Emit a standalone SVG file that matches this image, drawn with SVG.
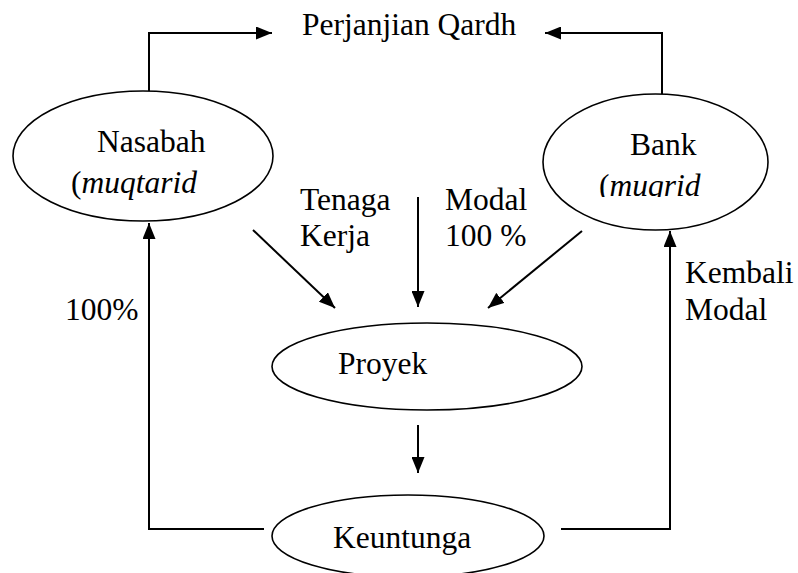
<svg xmlns="http://www.w3.org/2000/svg" width="798" height="573" viewBox="0 0 798 573">
  <defs>
    <marker id="arrow" markerUnits="userSpaceOnUse" markerWidth="16" markerHeight="13" refX="16" refY="6.5" orient="auto">
      <path d="M0,0 L16,6.5 L0,13 z" fill="#000"/>
    </marker>
    <clipPath id="bankClip">
      <rect x="560" y="100" width="200" height="97"/>
    </clipPath>
  </defs>
  <style>
    .node { fill: #fff; stroke: #000; stroke-width: 1.6; }
    .wire { fill: none; stroke: #000; stroke-width: 2; }
    .arr { marker-end: url(#arrow); }
  </style>
  <rect width="798" height="573" fill="#fff"/>

  <!-- connectors -->
  <g id="connectors">
    <polyline class="wire arr" points="149,91 149,33 272,33"/>
    <polyline class="wire arr" points="662,94 662,33 545,33"/>
    <line class="wire arr" x1="253" y1="230" x2="335" y2="308"/>
    <line class="wire arr" x1="418" y1="197" x2="418" y2="307"/>
    <line class="wire arr" x1="582" y1="231" x2="488" y2="308"/>
    <line class="wire arr" x1="418" y1="425" x2="418" y2="473"/>
    <polyline class="wire arr" points="264,529 149,529 149,223"/>
    <polyline class="wire arr" points="561,529 670,529 670,231"/>
  </g>

  <g font-family="Liberation Serif, Times New Roman, DejaVu Serif, serif" font-size="31.5" fill="#000">
    <!-- free labels -->
    <g id="labels">
      <text x="302" y="35">Perjanjian Qardh</text>
      <text x="300" y="210">Tenaga</text>
      <text x="300" y="246">Kerja</text>
      <text x="445" y="210">Modal</text>
      <text x="445" y="246">100 %</text>
      <text x="65" y="320">100%</text>
      <text x="685" y="283">Kembali</text>
      <text x="685" y="320">Modal</text>
    </g>

    <!-- nodes -->
    <g id="nasabah">
      <ellipse class="node" cx="143" cy="156" rx="130" ry="65"/>
      <text x="97" y="152">Nasabah</text>
      <text x="71" y="193">(<tspan font-style="italic">muqtarid</tspan></text>
    </g>
    <g id="bank">
      <ellipse class="node" cx="655.5" cy="162" rx="112.5" ry="68"/>
      <g clip-path="url(#bankClip)">
        <text x="630" y="155">Bank</text>
        <text x="599" y="196">(<tspan font-style="italic">muqrid</tspan></text>
      </g>
    </g>
    <g id="proyek">
      <ellipse class="node" cx="427" cy="366.5" rx="155" ry="43.5"/>
      <text x="338" y="374">Proyek</text>
    </g>
    <g id="keuntungan">
      <ellipse class="node" cx="408" cy="536" rx="136" ry="41"/>
      <text x="333" y="548">Keuntunga</text>
    </g>
  </g>
</svg>
